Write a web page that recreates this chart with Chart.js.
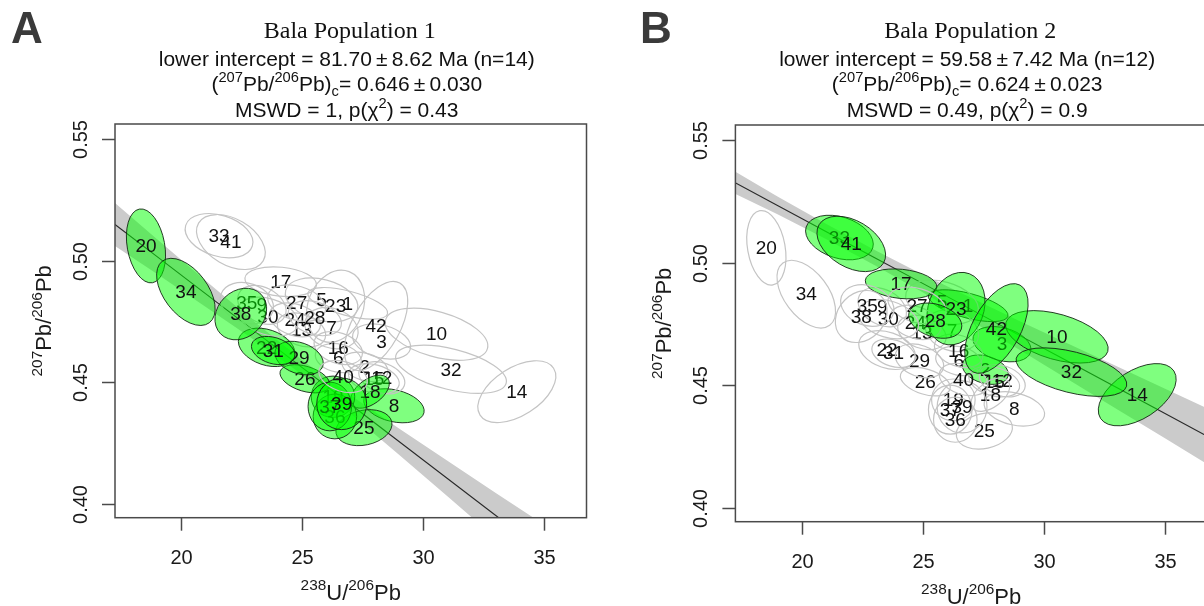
<!DOCTYPE html>
<html>
<head>
<meta charset="utf-8">
<script src="https://cdn.jsdelivr.net/npm/chart.js@4.4.1/dist/chart.umd.min.js"></script>
<style>
  html, body { margin: 0; padding: 0; background: #fff; }
  body { width: 1204px; height: 606px; overflow: hidden; position: relative; }
  canvas { position: absolute; top: 0; }
  #chartA { left: 0; }
  #chartB { left: 600px; }
</style>
</head>
<body>
<canvas id="chartA" width="600" height="606"></canvas>
<canvas id="chartB" width="620" height="606"></canvas>
<script>
// --- DATA ---

// analysis numbers and their error ellipses (centre, half-widths, correlation)
const spotIds = [1, 2, 3, 5, 6, 7, 8, 9, 10, 12, 13, 14, 15, 16, 17, 18, 19, 20, 22, 23,
                 24, 25, 26, 27, 28, 29, 30, 31, 32, 33, 34, 35, 36, 37, 38, 39, 40, 41, 42];
const spotU = [26.88, 27.59, 28.28, 25.80, 26.49, 26.21, 28.79, 23.33, 30.55, 28.29, 24.97, 33.87, 27.96, 26.49, 24.11, 27.80, 26.27, 18.54, 23.53, 26.38,
               24.70, 27.55, 25.11, 24.77, 25.52, 24.87, 23.58, 23.80, 31.15, 21.56, 20.19, 22.71, 26.35, 26.14, 22.46, 26.63, 26.69, 22.05, 28.05];
const spotPb = [0.4824, 0.4563, 0.4667, 0.4838, 0.4599, 0.4722, 0.4403, 0.4818, 0.4697, 0.4518, 0.4715, 0.4461, 0.4514, 0.4640, 0.4913, 0.4461, 0.4440, 0.5060, 0.4643, 0.4812,
                0.4756, 0.4313, 0.4514, 0.4825, 0.4763, 0.4599, 0.4769, 0.4630, 0.4553, 0.5102, 0.4871, 0.4825, 0.4359, 0.4400, 0.4780, 0.4411, 0.4523, 0.5076, 0.4731];
const errU = [1.65, 0.95, 1.20, 1.50, 0.95, 1.10, 1.25, 1.00, 2.12, 0.95, 1.00, 1.61, 1.05, 1.00, 1.48, 0.80, 0.90, 0.81, 1.17, 1.20,
              1.05, 1.16, 1.03, 1.20, 1.10, 1.00, 1.25, 0.90, 2.29, 1.40, 1.21, 1.10, 0.90, 0.90, 1.07, 1.03, 1.00, 1.42, 1.31];
const errPb = [0.0065, 0.0060, 0.0072, 0.0090, 0.0060, 0.0085, 0.0070, 0.0080, 0.0107, 0.0066, 0.0070, 0.0127, 0.0062, 0.0068, 0.0061, 0.0068, 0.0085, 0.0152, 0.0079, 0.0148,
               0.0070, 0.0074, 0.0058, 0.0075, 0.0072, 0.0069, 0.0080, 0.0058, 0.0099, 0.0091, 0.0138, 0.0085, 0.0092, 0.0100, 0.0106, 0.0106, 0.0066, 0.0113, 0.0183];
const errRho = [-0.6, -0.3, -0.3, -0.3, -0.2, -0.2, -0.3, -0.3, -0.45, -0.3, -0.3, 0.5, -0.3, -0.3, -0.2, 0.5, 0, -0.25, -0.3, 0.2,
                -0.3, 0.2, -0.4, -0.3, -0.3, -0.3, -0.3, -0.3, -0.5, -0.3, -0.5, -0.2, 0, 0, 0.2, 0, -0.3, -0.4, 0.55];

// analyses used in each regression (green)
const usedPop1 = [8, 18, 19, 20, 22, 25, 26, 29, 31, 34, 36, 37, 38, 39];
const usedPop2 = [1, 2, 3, 10, 14, 17, 23, 28, 32, 33, 41, 42];

// regression lines and their grey confidence bands
const fitU = [17, 19, 21, 23, 25, 27, 29, 31, 33, 35, 37];
const fitLinePop1 = [0.5168, 0.5016, 0.4864, 0.4712, 0.4560, 0.4408, 0.4256, 0.4104, 0.3952, 0.3800, 0.3648];
const bandHiPop1 = [0.5259, 0.5087, 0.4918, 0.4750, 0.4590, 0.4446, 0.4310, 0.4177, 0.4045, 0.3914, 0.3783];
const bandLoPop1 = [0.5077, 0.4945, 0.4810, 0.4674, 0.4530, 0.4370, 0.4202, 0.4031, 0.3859, 0.3686, 0.3513];
const fitLinePop2 = [0.5339, 0.5233, 0.5127, 0.5021, 0.4915, 0.4809, 0.4703, 0.4597, 0.4491, 0.4385, 0.4279];
const bandHiPop2 = [0.5386, 0.5269, 0.5158, 0.5052, 0.4951, 0.4856, 0.4762, 0.4670, 0.4578, 0.4486, 0.4395];
const bandLoPop2 = [0.5292, 0.5197, 0.5096, 0.4990, 0.4879, 0.4762, 0.4644, 0.4524, 0.4404, 0.4284, 0.4163];

// axes
const xTicks = [20, 25, 30, 35];
const yTicks = [0.40, 0.45, 0.50, 0.55];
const xRange = [17.26, 36.75];
const yRange = [0.3943, 0.5561];

const SANS = "'Liberation Sans', Arial, sans-serif";
const SERIF = "'Liberation Serif', 'Times New Roman', serif";

// --- DRAW HELPERS ---

// segments: [text, kind] where kind is '' | 'sup' | 'sub'
function drawRich(ctx, segs, x, y, size) {
    ctx.textAlign = 'left';
    ctx.textBaseline = 'alphabetic';
    let w = 0;
    for (const [t, k] of segs) {
        ctx.font = (k ? size * 0.7 : size) + 'px ' + SANS;
        w += ctx.measureText(t).width;
    }
    let cx = x - w / 2;
    for (const [t, k] of segs) {
        ctx.font = (k ? size * 0.7 : size) + 'px ' + SANS;
        const dy = k === 'sup' ? -size * 0.42 : (k === 'sub' ? size * 0.25 : 0);
        ctx.fillText(t, cx, y + dy);
        cx += ctx.measureText(t).width;
    }
}

function ellipsePath(ctx, xs, ys, i) {
    const px = xs.getPixelForValue(spotU[i]);
    const py = ys.getPixelForValue(spotPb[i]);
    const a = Math.abs(xs.getPixelForValue(spotU[i] + errU[i]) - px);
    const b = Math.abs(ys.getPixelForValue(spotPb[i] + errPb[i]) - py);
    const c = -errRho[i] * a * b; // pixel y runs downwards
    const half = (a * a - b * b) / 2;
    const d = Math.sqrt(half * half + c * c);
    const mean = (a * a + b * b) / 2;
    const th = 0.5 * Math.atan2(2 * c, a * a - b * b);
    ctx.beginPath();
    ctx.ellipse(px, py, Math.sqrt(mean + d), Math.sqrt(Math.max(mean - d, 0.5)), th, 0, 2 * Math.PI);
    return [px, py];
}

const panelPlugin = {
    id: 'panel',
    afterDatasetsDraw(chart, args, opts) {
        const ctx = chart.ctx;
        const xs = chart.scales.x, ys = chart.scales.y;
        const area = chart.chartArea;
        ctx.save();
        ctx.beginPath();
        ctx.rect(area.left, area.top, area.right - area.left, area.bottom - area.top);
        ctx.clip();
        spotIds.forEach((id, i) => {
            const used = opts.used.includes(id);
            const [px, py] = ellipsePath(ctx, xs, ys, i);
            if (used) {
                ctx.fillStyle = 'rgba(0,255,0,0.5)';
                ctx.fill();
                ctx.strokeStyle = 'rgba(20,40,20,0.9)';
                ctx.lineWidth = 1;
            } else {
                ctx.strokeStyle = '#c4c4c4';
                ctx.lineWidth = 1.2;
            }
            ctx.stroke();
            ctx.fillStyle = '#111';
            ctx.font = '19px ' + SANS;
            ctx.textAlign = 'center';
            ctx.textBaseline = 'middle';
            ctx.fillText(String(id), px, py + 1);
        });
        ctx.restore();
    },
    afterDraw(chart, args, opts) {
        const ctx = chart.ctx;
        const xs = chart.scales.x, ys = chart.scales.y;
        const { left, right, top, bottom } = chart.chartArea;
        const mid = (left + right) / 2;
        ctx.save();
        // box and ticks
        ctx.strokeStyle = '#4a4a4a';
        ctx.lineWidth = 1.5;
        ctx.strokeRect(left, top, right - left, bottom - top);
        ctx.fillStyle = '#1a1a1a';
        xTicks.forEach(v => {
            const p = Math.round(xs.getPixelForValue(v)) + 0.5;
            ctx.beginPath(); ctx.moveTo(p, bottom); ctx.lineTo(p, bottom + 13); ctx.stroke();
            ctx.font = '20px ' + SANS;
            ctx.textAlign = 'center'; ctx.textBaseline = 'alphabetic';
            ctx.fillText(String(v), p, bottom + 46);
        });
        yTicks.forEach(v => {
            const p = Math.round(ys.getPixelForValue(v)) + 0.5;
            ctx.beginPath(); ctx.moveTo(left, p); ctx.lineTo(left - 13, p); ctx.stroke();
            ctx.save();
            ctx.translate(left - 28, p);
            ctx.rotate(-Math.PI / 2);
            ctx.font = '20px ' + SANS;
            ctx.textAlign = 'center'; ctx.textBaseline = 'alphabetic';
            ctx.fillText(v.toFixed(2), 0, 0);
            ctx.restore();
        });
        // axis titles
        drawRich(ctx, [['238', 'sup'], ['U/', ''], ['206', 'sup'], ['Pb', '']], mid, bottom + 82, 22);
        ctx.save();
        ctx.translate(left - 64, (top + bottom) / 2);
        ctx.rotate(-Math.PI / 2);
        drawRich(ctx, [['207', 'sup'], ['Pb/', ''], ['206', 'sup'], ['Pb', '']], 0, 0, 22);
        ctx.restore();
        // titles
        ctx.fillStyle = '#111';
        ctx.font = '24px ' + SERIF;
        ctx.textAlign = 'center'; ctx.textBaseline = 'alphabetic';
        ctx.fillText(opts.title, mid - 1, 38);
        drawRich(ctx, [[opts.line1, '']], mid - 4, 65.5, 21);
        drawRich(ctx, [['(', ''], ['207', 'sup'], ['Pb/', ''], ['206', 'sup'], ['Pb)', ''], ['c', 'sub'], [opts.line2, '']], mid - 4, 90.5, 21);
        drawRich(ctx, [[opts.line3a, ''], ['2', 'sup'], [opts.line3b, '']], mid - 4, 116.5, 21);
        // panel letter
        ctx.fillStyle = '#3a3a3a';
        ctx.font = 'bold 44px ' + SANS;
        ctx.textAlign = 'left';
        ctx.fillText(opts.letter, opts.letterX, 43);
        ctx.restore();
    }
};

function makePanel(canvasId, pad, fitLine, bandHi, bandLo, panel) {
    const pts = ys => fitU.map((u, i) => ({ x: u, y: ys[i] }));
    // Chart.js paints the last dataset first, so the fitted line goes first to end up on top
    return new Chart(document.getElementById(canvasId), {
        type: 'line',
        data: {
            datasets: [
                { data: pts(fitLine), borderColor: '#2a2a2a', borderWidth: 1.1, pointRadius: 0, fill: false },
                { data: pts(bandHi), borderWidth: 0, pointRadius: 0, fill: false },
                { data: pts(bandLo), borderWidth: 0, pointRadius: 0, fill: '-1', backgroundColor: '#cbcbcb' }
            ]
        },
        options: {
            responsive: false,
            animation: false,
            events: [],
            layout: { padding: pad },
            plugins: { legend: { display: false }, tooltip: { enabled: false }, panel: panel },
            scales: {
                x: { type: 'linear', display: false, min: xRange[0], max: xRange[1] },
                y: { type: 'linear', display: false, min: yRange[0], max: yRange[1] }
            }
        },
        plugins: [panelPlugin]
    });
}

makePanel('chartA', { left: 115, top: 124, right: 13.5, bottom: 88.3 },
    fitLinePop1, bandHiPop1, bandLoPop1, {
        used: usedPop1, letter: 'A', letterX: 11, title: 'Bala Population 1',
        line1: 'lower intercept = 81.70\u2009\u00b1\u20098.62 Ma (n=14)',
        line2: '= 0.646\u2009\u00b1\u20090.030',
        line3a: 'MSWD = 1, p(\u03c7', line3b: ') = 0.43'
    });

makePanel('chartB', { left: 135.4, top: 125, right: 13.1, bottom: 84.3 },
    fitLinePop2, bandHiPop2, bandLoPop2, {
        used: usedPop2, letter: 'B', letterX: 40, title: 'Bala Population 2',
        line1: 'lower intercept = 59.58\u2009\u00b1\u20097.42 Ma (n=12)',
        line2: '= 0.624\u2009\u00b1\u20090.023',
        line3a: 'MSWD = 0.49, p(\u03c7', line3b: ') = 0.9'
    });
</script>
</body>
</html>
